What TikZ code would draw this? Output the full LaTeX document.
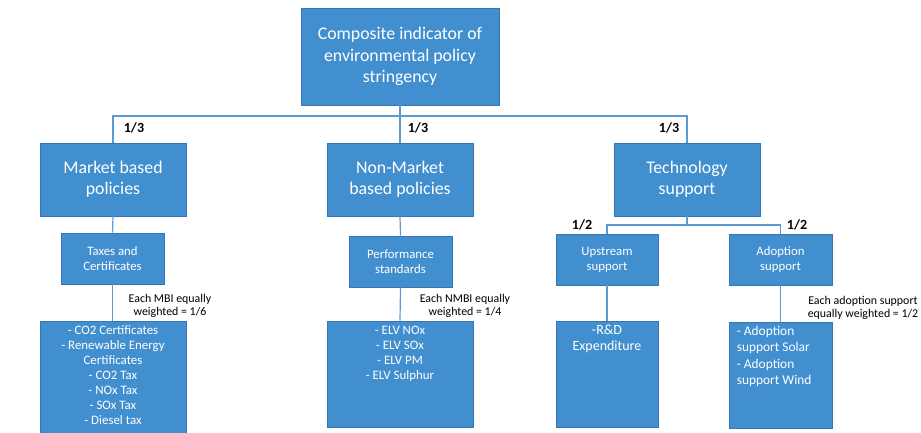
\documentclass[tikz,border=0pt]{standalone}
\usepackage{fontspec}
\setmainfont{Carlito}
\definecolor{boxfill}{RGB}{66,143,207}
\definecolor{boxline}{RGB}{55,118,178}
\definecolor{linkline}{RGB}{91,155,213}

\begin{document}
\begin{tikzpicture}[x=1pt,y=1pt]
\tikzstyle{box}=[draw=boxline, fill=boxfill, text=white, align=center, inner sep=0pt, line width=0.8pt]
\tikzstyle{bigtext}=[font=\fontsize{17.8}{21.5}\selectfont]
\tikzstyle{smalltext}=[font=\fontsize{12.8}{15}\selectfont]
\tikzstyle{listtext}=[text=white, align=center, inner sep=0pt]
\tikzstyle{link}=[draw=linkline, line width=1.2pt]
\tikzstyle{weight}=[font=\fontsize{14}{14}\selectfont\bfseries, inner sep=0pt]
\tikzstyle{note}=[font=\fontsize{11.9}{13.5}\selectfont, align=center, inner sep=0pt]
\useasboundingbox (0,0) rectangle (921,-433);
\clip (0,0) rectangle (921,-433);
% top
\node[box, bigtext, minimum width=198, minimum height=97] (top) at (400,-56.5) {Composite indicator of\\environmental policy\\stringency};
% second level
\node[box, bigtext, minimum width=146, minimum height=73] (market) at (113,-179.5) {Market based\\policies};
\node[box, bigtext, minimum width=146, minimum height=73] (nonmarket) at (400,-179.5) {Non-Market\\based policies};
\node[box, bigtext, minimum width=146, minimum height=73] (tech) at (687,-179.5) {Technology\\support};
% third level
\node[box, smalltext, minimum width=103, minimum height=51] (taxes) at (112.5,-258.5) {Taxes and\\Certificates};
\node[box, smalltext, minimum width=103, minimum height=51] (perf) at (400.5,-261.5) {Performance\\standards};
\node[box, smalltext, minimum width=102, minimum height=51] (upstream) at (607,-259.5) {Upstream\\support};
\node[box, smalltext, minimum width=103, minimum height=51] (adoption) at (780.5,-259.5) {Adoption\\support};
% lists
\node[box, minimum width=146, minimum height=124] (mbilist) at (113,-383) {};
\node[box, minimum width=146, minimum height=106] (nmbilist) at (400,-374) {};
\node[box, minimum width=102, minimum height=106] (rdlist) at (607,-374) {};
\node[box, minimum width=103, minimum height=106] (adoptlist) at (780.5,-375) {};
\node[listtext, anchor=north, font=\fontsize{12.9}{15}\selectfont] (mbitext) at ([yshift=-5]mbilist.north) {- CO2 Certificates\\- Renewable Energy\\Certificates\\- CO2 Tax\\- NOx Tax\\- SOx Tax\\- Diesel tax};
\node[listtext, anchor=north, font=\fontsize{12.9}{15}\selectfont] (nmbitext) at ([yshift=-5]nmbilist.north) {- ELV NOx\\- ELV SOx\\- ELV PM\\- ELV Sulphur};
\node[listtext, anchor=north, font=\fontsize{14}{16}\selectfont] (rdtext) at ([yshift=-4]rdlist.north) {-R\&D\\Expenditure};
\node[listtext, anchor=north west, align=left, font=\fontsize{13.4}{16.5}\selectfont] (adopttext) at ([xshift=8,yshift=-4]adoptlist.north west) {- Adoption\\support Solar\\- Adoption\\support Wind};
% connectors
\coordinate (split) at (400,-116);
\coordinate (techsplit) at (687,-225);
\draw[link] (top.south) -- (nonmarket.north);
\draw[link] (market.north) |- (split) -| (tech.north);
\draw[link] (market.south) -- (taxes.north);
\draw[link] (taxes.south) -- (taxes.south |- mbilist.north);
\draw[link] (nonmarket.south) -- (perf.north);
\draw[link] (perf.south) -- (nmbilist.north);
\draw[link] (tech.south) -- (techsplit);
\draw[link] (upstream.north) |- (techsplit) -| (adoption.north);
\draw[link] (upstream.south) -- (rdlist.north);
\draw[link] (adoption.south) -- (adoptlist.north);
% weights
\node[weight] (wmarket) at (134,-128) {1/3};
\node[weight] (wnonmarket) at (418,-128) {1/3};
\node[weight] (wtech) at (669,-128) {1/3};
\node[weight] (wupstream) at (582,-225) {1/2};
\node[weight] (wadoption) at (797,-225) {1/2};
\node[note] (notembi) at (170,-306) {Each MBI equally\\weighted = 1/6};
\node[note] (notenmbi) at (465,-306) {Each NMBI equally\\weighted = 1/4};
\node[note] (noteadopt) at (863,-308) {Each adoption support\\equally weighted = 1/2};
\end{tikzpicture}
\end{document}
